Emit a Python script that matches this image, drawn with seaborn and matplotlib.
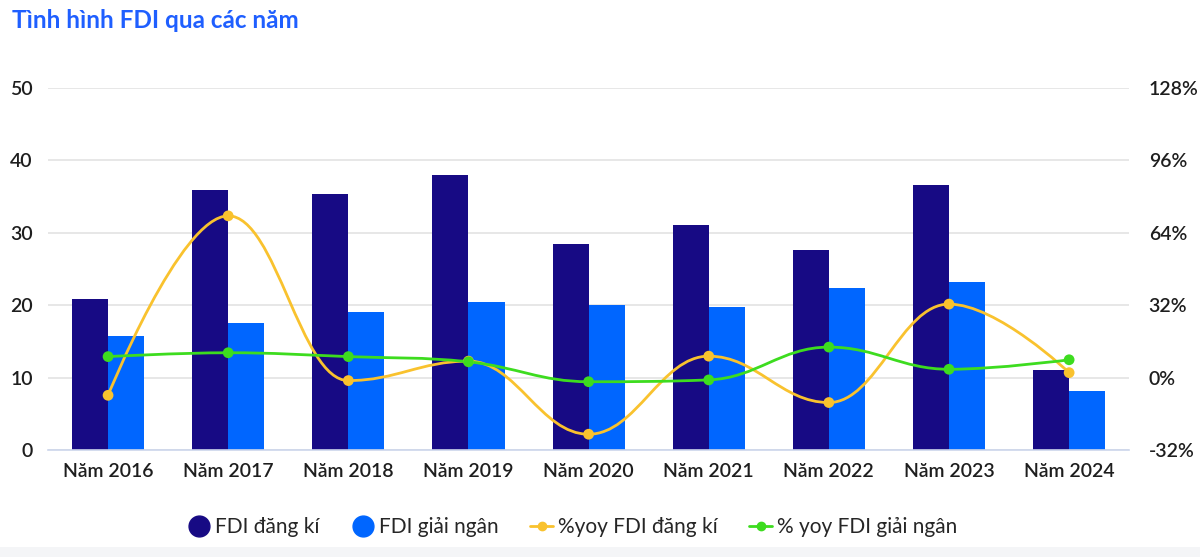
import numpy as np
import pandas as pd
import matplotlib
matplotlib.use("Agg")
import matplotlib.pyplot as plt
from matplotlib.path import Path
from matplotlib.patches import PathPatch, Rectangle
from matplotlib.lines import Line2D
import seaborn as sns

# ========== DADOS ==========
nam = ["Năm 2016", "Năm 2017", "Năm 2018", "Năm 2019", "Năm 2020",
       "Năm 2021", "Năm 2022", "Năm 2023", "Năm 2024"]
fdi_dang_ki = [20.8, 35.9, 35.4, 38.0, 28.5, 31.1, 27.6, 36.6, 11.0]
fdi_giai_ngan = [15.8, 17.5, 19.1, 20.4, 20.0, 19.7, 22.4, 23.2, 8.2]
yoy_dang_ki = [-7.8, 71.5, -1.3, 7.3, -25.0, 9.5, -11.0, 32.5, 2.2]
yoy_giai_ngan = [9.3, 11.0, 9.3, 7.0, -1.8, -1.0, 13.5, 3.7, 7.9]

c_dang_ki = "#170a84"
c_giai_ngan = "#0066ff"
c_yoy_dk = "#f9c22e"
c_yoy_gn = "#3ddc1f"

df = pd.DataFrame({
    "nam": nam * 2,
    "gia_tri": fdi_dang_ki + fdi_giai_ngan,
    "loai": ["FDI đăng kí"] * len(nam) + ["FDI giải ngân"] * len(nam),
})


def spline_path(xs, ys):
    """Curva suave no estilo 'spline' (pontos de controle com suavização 1.5)"""
    smoothing, denom = 1.5, 2.5
    n = len(xs)
    left = [None] * n
    right = [None] * n
    for i in range(n):
        if i == 0 or i == n - 1:
            left[i] = (xs[i], ys[i])
            right[i] = (xs[i], ys[i])
            continue
        lx, ly = xs[i - 1], ys[i - 1]
        nx, ny = xs[i + 1], ys[i + 1]
        px, py = xs[i], ys[i]
        lcx = (smoothing * px + lx) / denom
        lcy = (smoothing * py + ly) / denom
        rcx = (smoothing * px + nx) / denom
        rcy = (smoothing * py + ny) / denom
        corr = (rcy - lcy) * (rcx - px) / (rcx - lcx) + py - rcy
        lcy += corr
        rcy += corr
        if lcy > ly and lcy > py:
            lcy = max(ly, py)
            rcy = 2 * py - lcy
        elif lcy < ly and lcy < py:
            lcy = min(ly, py)
            rcy = 2 * py - lcy
        if rcy > ny and rcy > py:
            rcy = max(ny, py)
            lcy = 2 * py - rcy
        elif rcy < ny and rcy < py:
            rcy = min(ny, py)
            lcy = 2 * py - rcy
        left[i] = (lcx, lcy)
        right[i] = (rcx, rcy)
    verts = [(xs[0], ys[0])]
    codes = [Path.MOVETO]
    for i in range(1, n):
        verts += [right[i - 1], left[i], (xs[i], ys[i])]
        codes += [Path.CURVE4] * 3
    return Path(verts, codes)


# ========== GRÁFICO ==========
sns.set_theme(style="white")
plt.rcParams["font.family"] = ["Lato", "DejaVu Sans"]

fig = plt.figure(figsize=(12, 5.57), dpi=100)
ax = fig.add_axes([0.04, 0.192, 0.901, 0.650])

sns.barplot(data=df, x="nam", y="gia_tri", hue="loai", ax=ax,
            palette=[c_dang_ki, c_giai_ngan], width=0.6, gap=0,
            saturation=1, linewidth=0, legend=False)
ax.set_xlim(-0.5, 8.5)
ax.set_ylim(0, 50)
ax.set_yticks(range(0, 51, 10))
ax.set_xlabel("")
ax.set_ylabel("")
ax.grid(True, axis="y", color="#e3e3e3", linewidth=1.2)
ax.set_axisbelow(True)
for s in ["top", "right", "left"]:
    ax.spines[s].set_visible(False)
ax.spines["bottom"].set_color("#ccd6eb")
ax.spines["bottom"].set_linewidth(1.2)
ax.tick_params(axis="y", length=0, pad=11, labelsize=14, colors="#1e1e1e")
ax.tick_params(axis="x", length=0, pad=9, labelsize=14, colors="#1e1e1e")
for lab in ax.get_xticklabels() + ax.get_yticklabels():
    lab.set_fontweight("semibold")

ax2 = ax.twinx()
ax2.set_ylim(-32, 128)
ax2.set_yticks(range(-32, 129, 32))
ax2.set_yticklabels([f"{v}%" for v in range(-32, 129, 32)])
for s in ["top", "right", "left", "bottom"]:
    ax2.spines[s].set_visible(False)
ax2.tick_params(axis="y", length=0, pad=14, labelsize=14, colors="#1e1e1e")
for lab in ax2.get_yticklabels():
    lab.set_fontweight("semibold")

xpos = list(range(len(nam)))
for serie, cor in [(yoy_dang_ki, c_yoy_dk), (yoy_giai_ngan, c_yoy_gn)]:
    ax2.add_patch(PathPatch(spline_path(xpos, serie), facecolor="none",
                            edgecolor=cor, linewidth=2, zorder=3))
    sns.scatterplot(x=xpos, y=serie, ax=ax2, color=cor, s=60,
                    edgecolor="none", zorder=4)

fig.text(0.010, 0.963, "Tình hình FDI qua các năm", color="#1f5fff",
         fontsize=17.5, fontweight="bold", va="center", ha="left")

handles = [
    Line2D([], [], marker="o", linestyle="none", markersize=15,
           color=c_dang_ki),
    Line2D([], [], marker="o", linestyle="none", markersize=15,
           color=c_giai_ngan),
    Line2D([], [], marker="o", linestyle="-", markersize=6, linewidth=2,
           color=c_yoy_dk),
    Line2D([], [], marker="o", linestyle="-", markersize=6, linewidth=2,
           color=c_yoy_gn),
]
labels = ["FDI đăng kí", "FDI giải ngân", "%yoy FDI đăng kí",
          "% yoy FDI giải ngân"]
fig.legend(handles, labels, loc="center", bbox_to_anchor=(0.477, 0.054),
           ncol=4, frameon=False, fontsize=15, handlelength=1.1,
           handletextpad=0.25, columnspacing=1.5)

fig.add_artist(Rectangle((0, 0), 1, 10 / 557, transform=fig.transFigure,
                         facecolor="#f4f5f7", edgecolor="none"))

plt.savefig("out.png", dpi=100, facecolor="white")
